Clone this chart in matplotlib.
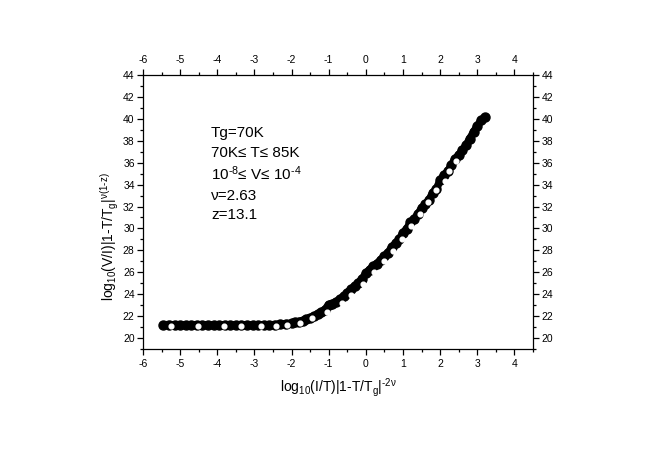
"""Scaling collapse plot: log10(V/I)|1-T/Tg|^{v(1-z)} vs log10(I/T)|1-T/Tg|^{-2v}."""

import matplotlib
matplotlib.use("Agg")
import matplotlib.pyplot as plt  # noqa: E402
from matplotlib.ticker import MultipleLocator  # noqa: E402

plt.rcParams["font.family"] = ["Liberation Sans", "DejaVu Sans"]
plt.rcParams["mathtext.fontset"] = "custom"
plt.rcParams["mathtext.rm"] = "Liberation Sans"
plt.rcParams["mathtext.it"] = "Liberation Sans"
plt.rcParams["axes.unicode_minus"] = False

# collapsed data, all temperatures (black band)
x_all = [-5.45, -5.3, -5.15, -5.0, -4.85, -4.7, -4.55, -4.4, -4.25, -4.1,
         -3.95, -3.8, -3.65, -3.5, -3.35, -3.2, -3.05, -2.9, -2.75, -2.6,
         -2.45, -2.3, -2.15,
         -2.0, -1.9, -1.8, -1.7, -1.6, -1.5, -1.4, -1.3, -1.2, -1.1,
         -1.0, -0.9, -0.8, -0.7, -0.6, -0.5, -0.4, -0.3, -0.2, -0.1,
         0.0, 0.1, 0.2, 0.3, 0.4, 0.5, 0.6, 0.7, 0.8, 0.9,
         1.0, 1.1, 1.2, 1.3, 1.4, 1.5, 1.6, 1.7, 1.8, 1.9,
         2.0, 2.1, 2.2, 2.3, 2.4, 2.5, 2.6, 2.7, 2.8, 2.9,
         3.0, 3.1, 3.2]
y_all = [21.2, 21.22, 21.2, 21.18, 21.2, 21.21, 21.19, 21.2, 21.2, 21.18,
         21.2, 21.21, 21.2, 21.19, 21.2, 21.18, 21.2, 21.2, 21.19, 21.2,
         21.22, 21.25, 21.3,
         21.35, 21.42, 21.5, 21.6, 21.72, 21.85, 22.0, 22.15, 22.35, 22.6,
         23.05, 23.15, 23.3, 23.55, 23.8, 24.15, 24.45, 24.75, 25.05, 25.4,
         25.9, 26.25, 26.55, 26.8, 27.15, 27.45, 27.8, 28.3, 28.65, 29.0,
         29.6, 29.95, 30.55, 30.85, 31.3, 31.85, 32.2, 32.6, 33.25, 33.6,
         34.4, 34.85, 35.2, 35.75, 36.35, 36.7, 37.15, 37.6, 38.2, 38.8,
         39.35, 39.85, 40.15]

# one highlighted temperature (white dots)
x_sel = [-5.25, -4.52, -3.83, -3.36, -2.81, -2.42, -2.11, -1.77, -1.44, -1.05,
         -0.63, -0.41, -0.08, 0.22, 0.48, 0.72, 0.97, 1.22, 1.45, 1.67,
         1.90, 2.12, 2.25, 2.42]
y_sel = [21.09, 21.09, 21.09, 21.09, 21.06, 21.09, 21.18, 21.39, 21.79, 22.36,
         23.24, 23.9, 24.92, 26.0, 27.02, 27.95, 29.06, 30.18, 31.33, 32.4,
         33.52, 34.36, 35.2, 36.18]

notes = ["Tg=70K", "70K≤ T≤ 85K",
         r"10$^{\mathregular{\text{-}8}}$≤ V≤ 10$^{\mathregular{\text{-}4}}$",
         "ν=2.63", "z=13.1"]
note_y = [136.7, 156.7, 180.0, 200.0, 219.3]  # baselines, px from top

W, H = 650, 457
fig = plt.figure(figsize=(W / 100, H / 100), dpi=100)
ax = fig.add_axes([143 / W, 1 - 349 / H, (533 - 143) / W, (349 - 75) / H])

# overlapping filled points of all runs form one thick band
ax.plot(x_all, y_all, "-", color="black", lw=5.5, solid_capstyle="round",
        solid_joinstyle="round", zorder=2)
ax.plot(x_all, y_all, "o", color="black", ms=6.5, mec="black", zorder=2)
ax.plot(x_sel, y_sel, "o", color="white", ms=3.4, mec="white", zorder=3)

ax.set_xlim(-6, 4.5)
ax.set_ylim(19, 44)
ax.xaxis.set_major_locator(MultipleLocator(1))
ax.xaxis.set_minor_locator(MultipleLocator(0.5))
ax.yaxis.set_major_locator(MultipleLocator(2))
ax.yaxis.set_minor_locator(MultipleLocator(1))
ax.tick_params(which="both", direction="out", top=True, right=True,
               labeltop=True, labelright=True, width=0.9, labelsize=7.5)
ax.tick_params(which="major", length=4.5)
ax.tick_params(which="minor", length=2.5)
ax.tick_params(axis="y", pad=1.5)
ax.tick_params(axis="x", pad=3)
for s in ax.spines.values():
    s.set_linewidth(0.9)

for t, yb in zip(notes, note_y):
    fig.text(211 / W, 1 - yb / H, t, fontsize=11, va="baseline", ha="left")

fig.text(338 / W, 1 - 392 / H,
         r"$\mathregular{log_{10}(I/T)|1\text{-}T/T_g|^{\text{-}2ν}}$",
         fontsize=10, ha="center", va="baseline")
fig.text(110 / W, 1 - 237 / H,
         r"$\mathregular{log_{10}(V/I)|1\text{-}T/T_g|^{ν(1\text{-}z)}}$",
         fontsize=10, ha="center", va="center", rotation=90)

fig.savefig("out.png", dpi=100)
